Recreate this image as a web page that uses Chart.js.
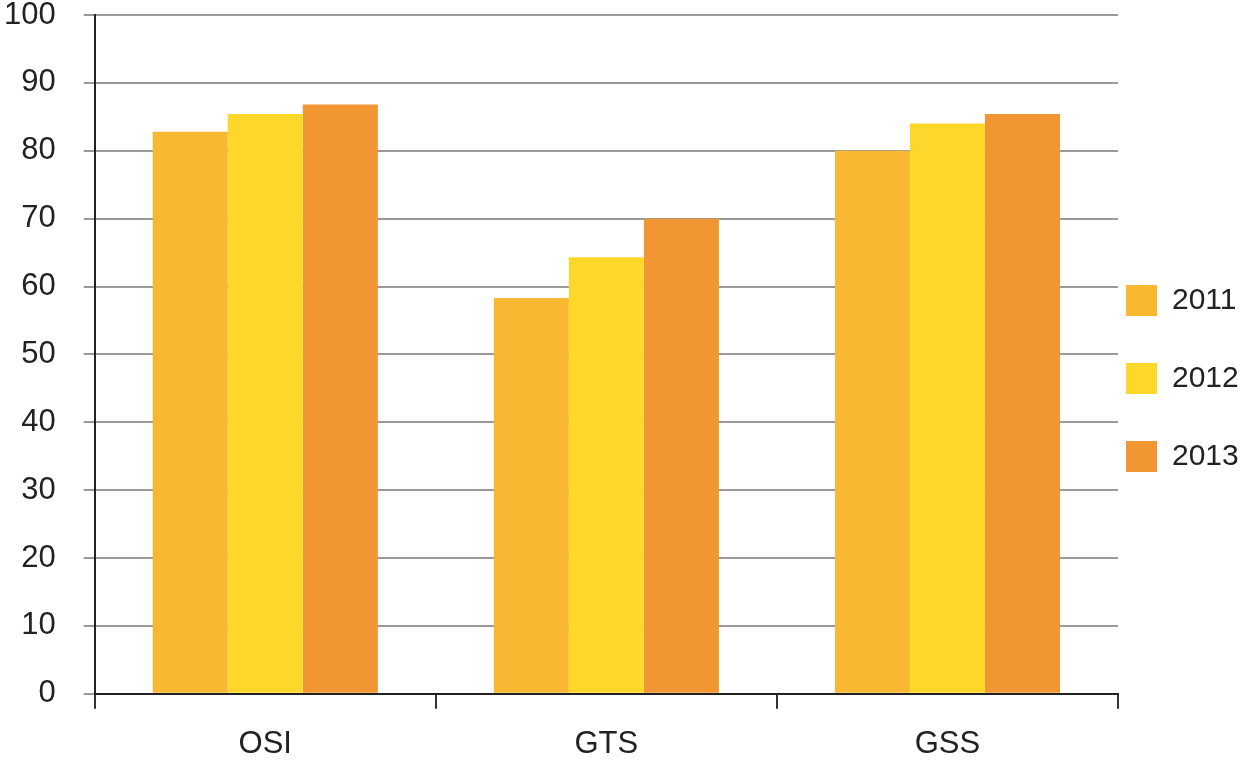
<!DOCTYPE html>
<html>
<head>
<meta charset="utf-8">
<script src="https://cdn.jsdelivr.net/npm/chart.js@4/dist/chart.umd.min.js"></script>
<style>
  html, body { margin: 0; padding: 0; background: #fff; }
  #wrap { width: 1240px; height: 765px; }
</style>
</head>
<body>
<div id="wrap"><canvas id="barChart"></canvas></div>
<script>
// categories and series
const categories = ['OSI', 'GTS', 'GSS'];
const years = ['2011', '2012', '2013'];
const values2011 = [82.8, 58.3, 80.0];
const values2012 = [85.4, 64.3, 84.0];
const values2013 = [86.8, 70.0, 85.4];
const yTicks = [0, 10, 20, 30, 40, 50, 60, 70, 80, 90, 100];

const colors = ['#f9b832', '#fdd82b', '#f29634'];
const fontFamily = "'Liberation Sans', Arial, sans-serif";

// move the legend so its boxes sit just right of the plot
const legendShift = {
    id: 'legendShift',
    afterLayout(chart) {
        chart.legend.left -= 39;
        chart.legend.top -= 19;
        chart.legend.bottom -= 19;
    }
};

const ctx = document.getElementById('barChart').getContext('2d');
const chart = new Chart(ctx, {
    type: 'bar',
    data: {
        labels: categories,
        datasets: [values2011, values2012, values2013].map((vals, i) => ({
            label: years[i],
            data: vals,
            backgroundColor: colors[i],
            borderWidth: 0,
            barPercentage: 1,
            categoryPercentage: 0.66
        }))
    },
    options: {
        responsive: true,
        maintainAspectRatio: false,
        animation: false,
        layout: {
            padding: { left: -24, top: 15, right: 0, bottom: -15 }
        },
        plugins: {
            tooltip: { enabled: false },
            legend: {
                position: 'right',
                maxWidth: 122,
                labels: {
                    boxWidth: 31,
                    boxHeight: 31,
                    padding: 47,
                    color: '#222',
                    font: { family: fontFamily, size: 30 }
                }
            }
        },
        scales: {
            x: {
                grid: {
                    drawOnChartArea: false,
                    drawTicks: true,
                    tickLength: 15,
                    color: '#333',
                    lineWidth: 2
                },
                border: { color: '#222', width: 2 },
                ticks: { color: '#222', font: { family: fontFamily, size: 31 }, padding: 17 }
            },
            y: {
                min: 0,
                max: 100,
                afterBuildTicks: axis => { axis.ticks = yTicks.map(v => ({ value: v })); },
                afterFit: axis => { axis.paddingTop = 0; axis.paddingBottom = 0; },
                grid: {
                    color: '#999',
                    lineWidth: 2,
                    tickLength: 11
                },
                border: { color: '#222', width: 2 },
                ticks: { color: '#222', font: { family: fontFamily, size: 31 }, padding: 28 }
            }
        }
    },
    plugins: [legendShift]
});
</script>
</body>
</html>
